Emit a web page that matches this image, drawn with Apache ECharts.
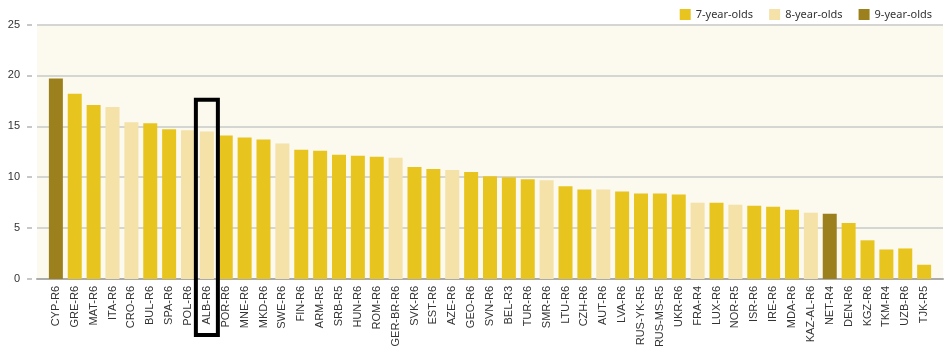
<!DOCTYPE html>
<html>
<head>
<meta charset="utf-8">
<script src="https://cdn.jsdelivr.net/npm/echarts@6/dist/echarts.min.js"></script>
<style>html,body{margin:0;padding:0;background:#fff}#c{width:945px;height:356px}</style>
</head>
<body>
<div id="c"></div>
<script>
var categories = ['CYP-R6','GRE-R6','MAT-R6','ITA-R6','CRO-R6','BUL-R6','SPA-R6','POL-R6','ALB-R6','POR-R6','MNE-R6','MKD-R6','SWE-R6','FIN-R6','ARM-R5','SRB-R5','HUN-R6','ROM-R6','GER-BR-R6','SVK-R6','EST-R6','AZE-R6','GEO-R6','SVN-R6','BEL-R3','TUR-R6','SMR-R6','LTU-R6','CZH-R6','AUT-R6','LVA-R6','RUS-YK-R5','RUS-MS-R5','UKR-R6','FRA-R4','LUX-R6','NOR-R5','ISR-R6','IRE-R6','MDA-R6','KAZ-AL-R6','NET-R4','DEN-R6','KGZ-R6','TKM-R4','UZB-R6','TJK-R5'];
var values = [19.7,18.2,17.1,16.9,15.4,15.3,14.7,14.6,14.5,14.1,13.9,13.7,13.3,12.7,12.6,12.2,12.1,12.0,11.9,11.0,10.8,10.7,10.5,10.1,10.0,9.8,9.7,9.1,8.8,8.8,8.6,8.4,8.4,8.3,7.5,7.5,7.3,7.2,7.1,6.8,6.5,6.4,5.5,3.8,2.9,3.0,1.4];
var ageGroup = [9,7,7,8,8,7,7,8,8,7,7,7,8,7,7,7,7,7,8,7,7,8,7,7,7,7,8,7,7,8,7,7,7,7,8,7,8,7,7,7,8,9,7,7,7,7,7];
var groupNames = ['7-year-olds','8-year-olds','9-year-olds'];
var groupKeys = [7,8,9];
var highlighted = 'ALB-R6';
var yTicks = [0,5,10,15,20,25];

var colors = ['#E8C41F','#F4E2A8','#9C801E'];
var chart = echarts.init(document.getElementById('c'), null, {renderer:'canvas'});
var series = groupKeys.map(function(g, gi){
  return {
    name: groupNames[gi],
    type: 'bar',
    stack: 'all',
    barWidth: 14,
    itemStyle: {color: colors[gi]},
    data: values.map(function(v, i){ return ageGroup[i] === g ? [i, v] : [i, null]; })
  };
});
chart.setOption({
  animation: false,
  textStyle: {fontFamily: 'Liberation Sans'},
  legend: {
    top: 4, right: 8, itemWidth: 11, itemHeight: 11, itemGap: 16,
    icon: 'rect',
    textStyle: {fontFamily: 'Noto Sans', fontSize: 11, color: '#333'},
    data: groupNames
  },
  grid: {left: 37, right: 2, top: 24.5, bottom: 77, show: true, backgroundColor: '#FCF9EE', borderWidth: 0},
  xAxis: {
    type: 'value', min: -1, max: categories.length, interval: 1,
    splitLine: {show: false},
    axisTick: {show: false},
    axisLine: {show: true, onZero: false, lineStyle: {color: '#ababab', width: 2}},
    axisLabel: {
      rotate: 90, margin: 7, fontSize: 11, color: '#333',
      hideOverlap: false,
      formatter: function(v){ return categories[v] || ''; }
    }
  },
  yAxis: {
    type: 'value', min: yTicks[0], max: yTicks[yTicks.length-1], interval: 5,
    offset: 5,
    axisLine: {show: true, onZero: false, lineStyle: {color: 'rgba(0,0,0,0)'}},
    axisTick: {show: true, inside: false, length: 5, lineStyle: {color: '#b5b5b5', width: 1.5}},
    axisLabel: {fontSize: 11, color: '#333', margin: 12},
    splitLine: {lineStyle: {color: '#c9c9c9', width: 1.5}}
  },
  series: series
});
// highlight box around the highlighted category
var hi = categories.indexOf(highlighted);
var pTop = chart.convertToPixel({gridIndex: 0}, [hi, 17.6]);
var pZero = chart.convertToPixel({gridIndex: 0}, [hi, 0]);
chart.setOption({
  graphic: [{
    type: 'rect', z: 100,
    shape: {x: pTop[0] - 11, y: pTop[1], width: 22, height: (pZero[1] + 56) - pTop[1]},
    style: {fill: 'none', stroke: '#000', lineWidth: 4}
  }]
});
</script>
</body>
</html>
